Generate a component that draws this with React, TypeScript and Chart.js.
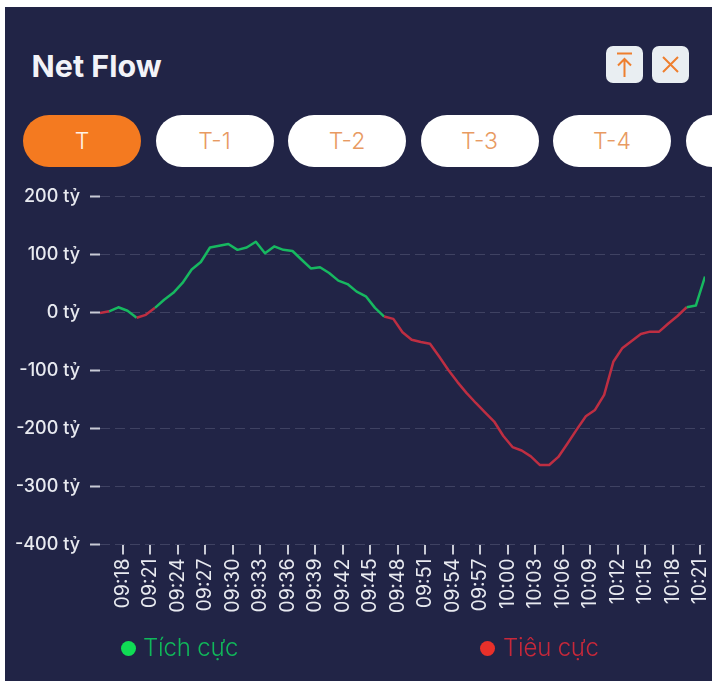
import React, { useEffect, useRef } from "react";
import { Chart, registerables } from "chart.js";

Chart.register(...registerables);

const sampleTimes = [
  "09:15:30","09:16:30","09:17:30","09:18:30","09:19:30","09:20:30","09:21:30","09:22:30","09:23:30","09:24:30",
  "09:25:30","09:26:30","09:27:30","09:28:30","09:29:30","09:30:30","09:31:30","09:32:30","09:33:30","09:34:30",
  "09:35:30","09:36:30","09:37:30","09:38:30","09:39:30","09:40:30","09:41:30","09:42:30","09:43:30","09:44:30",
  "09:45:30","09:46:30","09:47:30","09:48:30","09:49:30","09:50:30","09:51:30","09:52:30","09:53:30","09:54:30",
  "09:55:30","09:56:30","09:57:30","09:58:30","09:59:30","10:00:30","10:01:30","10:02:30","10:03:30","10:04:30",
  "10:05:30","10:06:30","10:07:30","10:08:30","10:09:30","10:10:30","10:11:30","10:12:30","10:13:30","10:14:30",
  "10:15:30","10:16:30","10:17:30","10:18:30","10:19:30","10:20:30","10:21:30",
];
const netFlow = [
  -1, 2, 9, 3, -9, -4, 8, 22, 34, 51,
  74, 87, 112, 115, 118, 108, 112, 122, 102, 114,
  108, 106, 91, 76, 78, 68, 55, 49, 36, 28,
  8, -7, -11, -34, -47, -51, -54, -76, -99, -120,
  -139, -156, -172, -188, -213, -232, -238, -248, -263, -263,
  -249, -226, -202, -179, -168, -142, -85, -61, -49, -37,
  -33, -33, -19, -6, 9, 12, 62,
];
const xTickLabels = [
  "09:18","09:21","09:24","09:27","09:30","09:33","09:36","09:39","09:42","09:45","09:48",
  "09:51","09:54","09:57","10:00","10:03","10:06","10:09","10:12","10:15","10:18","10:21",
];
const yTicks = [200, 100, 0, -100, -200, -300, -400];
const tabs = ["T", "T-1", "T-2", "T-3", "T-4", "T-5"];
const legendItems = ["Tích cực", "Tiêu cực"];

const FONT = "Inter, 'Noto Sans', sans-serif";
const GREEN = "#17B860";
const RED = "#BE2E42";

const toMinutes = (t: string) => {
  const [h, m, s] = t.split(":").map(Number);
  return h * 60 + m + (s || 0) / 60;
};
const fromMinutes = (v: number) => {
  const h = Math.floor(v / 60);
  const m = Math.round(v - h * 60);
  return `${String(h).padStart(2, "0")}:${String(m).padStart(2, "0")}`;
};

export default function App() {
  const ref = useRef<HTMLCanvasElement>(null);

  useEffect(() => {
    document.body.style.margin = "0";
    document.body.style.background = "#fff";
    const chart = new Chart(ref.current!, {
      type: "line",
      data: {
        datasets: [
          {
            label: "Net Flow",
            data: sampleTimes.map((t, i) => ({ x: toMinutes(t), y: netFlow[i] })),
            borderWidth: 2.5,
            borderColor: GREEN,
            pointRadius: 0,
            tension: 0,
            borderJoinStyle: "round",
            segment: {
              borderColor: (ctx: any) => (ctx.p0.parsed.y < 0 ? RED : GREEN),
            },
          },
        ],
      },
      options: {
        animation: false,
        responsive: false,
        layout: { padding: { top: 196.5, right: 7, left: 0, bottom: 0 } },
        plugins: { legend: { display: false }, tooltip: { enabled: false } },
        scales: {
          x: {
            type: "linear",
            min: toMinutes(sampleTimes[0]),
            max: toMinutes(sampleTimes[sampleTimes.length - 1]),
            afterBuildTicks: (axis: any) => {
              axis.ticks = xTickLabels.map((t) => ({ value: toMinutes(t) }));
            },
            afterFit: (axis: any) => {
              axis.height = 136.5;
              axis.paddingLeft = 0;
              axis.paddingRight = 0;
            },
            grid: { drawOnChartArea: false, tickColor: "#C9CBD6", tickLength: 10, lineWidth: 2 },
            border: { display: false },
            ticks: {
              autoSkip: false,
              minRotation: 90,
              maxRotation: 90,
              padding: 4,
              color: "#E8EAF0",
              font: { family: FONT, size: 19.5 },
              callback: (v: any) => fromMinutes(Number(v)),
            },
          },
          y: {
            min: yTicks[yTicks.length - 1],
            max: yTicks[0],
            afterBuildTicks: (axis: any) => {
              axis.ticks = yTicks.map((value) => ({ value }));
            },
            afterFit: (axis: any) => {
              axis.width = 100;
              axis.paddingTop = 0;
              axis.paddingBottom = 0;
            },
            grid: { color: "#3F4262", lineWidth: 1, tickColor: "#C9CBD6", tickLength: 10, tickWidth: 2 },
            border: { display: false, dash: [10, 5] },
            ticks: {
              padding: 10,
              color: "#E8EAF0",
              font: { family: FONT, size: 18, weight: 500 },
              callback: (v: any) => `${v} tỷ`,
            },
          },
        },
      },
    } as any);
    return () => chart.destroy();
  }, []);

  const abs = (s: React.CSSProperties): React.CSSProperties => ({ position: "absolute", ...s });

  return (
    <div style={abs({ left: 0, top: 0, width: 712, height: 681, overflow: "hidden", background: "#fff", fontFamily: FONT })}>
      <div style={abs({ left: 5, top: 7, width: 707, height: 674, background: "#212446" })} />
      <div style={abs({ left: 31.5, top: 46, height: 40, lineHeight: "40px", fontSize: 30.5, fontWeight: 700, color: "#F2F3F8" })}>Net Flow</div>

      {[606, 652].map((x, i) => (
        <div key={x} style={abs({ left: x, top: 46, width: 37, height: 37, borderRadius: 7, background: "#E9EEF2" })}>
          <svg width="37" height="37" viewBox="0 0 37 37" fill="none" stroke="#EE7F2F" strokeWidth="2">
            {i === 0 ? (
              <path d="M11 7.5H26M18.5 31V13M12 19.5L18.5 13L25 19.5" />
            ) : (
              <path d="M11 11L26 26M26 11L11 26" />
            )}
          </svg>
        </div>
      ))}

      {tabs.map((t, i) => (
        <div
          key={t}
          style={abs({
            left: 23 + i * 132.5,
            top: 115,
            width: 118,
            height: 52,
            borderRadius: 26,
            background: i === 0 ? "#F47A20" : "#FFFFFF",
            color: i === 0 ? "#FFF3E8" : "#E89A62",
            fontSize: 23,
            fontWeight: 300,
            lineHeight: "52px",
            textAlign: "center",
          })}
        >
          {t}
        </div>
      ))}

      <canvas ref={ref} width={712} height={681} style={abs({ left: 0, top: 0, width: 712, height: 681 })} />

      {legendItems.map((label, i) => (
        <React.Fragment key={label}>
          <div
            style={abs({
              left: i === 0 ? 120.5 : 479.5,
              top: 640.5,
              width: 15,
              height: 15,
              borderRadius: "50%",
              background: i === 0 ? "#10DC55" : "#E8302A",
            })}
          />
          <div
            style={abs({
              left: i === 0 ? 143 : 503,
              top: 632,
              height: 32,
              lineHeight: "32px",
              fontSize: 24,
              fontWeight: 300,
              letterSpacing: -0.2,
              color: i === 0 ? "#10B85A" : "#C8283A",
            })}
          >
            {label}
          </div>
        </React.Fragment>
      ))}
    </div>
  );
}
